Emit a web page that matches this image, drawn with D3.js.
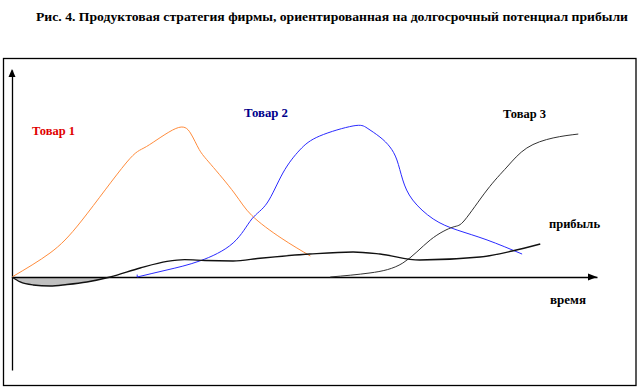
<!DOCTYPE html>
<html><head><meta charset="utf-8">
<script src="https://cdn.jsdelivr.net/npm/d3@7"></script>
<style>html,body{margin:0;padding:0;background:#fff}svg{display:block}
text{font-family:"Liberation Serif","Times New Roman",serif;font-weight:bold}</style>
</head><body>
<svg id="c" width="640" height="390"></svg>
<script>
const title = "Рис. 4. Продуктовая стратегия фирмы, ориентированная на долгосрочный потенциал прибыли";
const seriesNames = ["Товар 1", "Товар 2", "Товар 3", "прибыль"];
const axisLabel = "время";

const product1T = [0, 6.5, 12, 19.5, 23, 28, 30.5, 32, 34, 38, 41, 46, 51];
const product1V = [0, 16, 38, 76, 87, 99, 96, 85, 75, 56, 41, 26, 14];

const product2T = [21.4, 26.5, 32.1, 37.8, 41, 43.6, 46.3, 49.2, 52.6, 58.3, 60.7, 62.9, 64.6, 65.8, 66.8, 68.5, 72, 76.1, 81.2, 87.2];
const product2V = [0, 4.7, 10.7, 22.7, 38.7, 49.3, 69.3, 84.7, 94, 100.7, 99.3, 93.3, 86.7, 78, 64.7, 51.3, 38.7, 31.3, 24.7, 15.3];

const product3T = [54.4, 61.2, 66.8, 71.5, 75.4, 77.4, 81.2, 84.6, 88, 92.5, 96.8];
const product3V = [0, 2.7, 9.3, 24.7, 33.3, 38, 58, 73.3, 86, 92.7, 95.3];

const profitT = [0, 1.4, 3.6, 6.5, 9.4, 12.8, 16.8, 21.9, 26.5, 29.5, 33, 37.8, 42.4, 50.9, 58.3, 62.9, 69.7, 80, 85.5, 90.3];
const profitV = [0, -3.3, -5.3, -6, -5, -3.3, 0, 6, 10.4, 11.6, 11, 10.7, 12.5, 15.3, 16.7, 15.3, 11.3, 13.3, 17.3, 22];

const svg = d3.select("#c");
const x = d3.scaleLinear().domain([0, 100]).range([12, 597]);
const y = d3.scaleLinear().domain([-62, 138]).range([370, 70]);

// frame
svg.append("rect").attr("x", 3.5).attr("y", 58.5).attr("width", 632.5).attr("height", 327)
  .attr("fill", "none").attr("stroke", "#000").attr("stroke-width", 1.3);

// title
svg.append("text").attr("x", 36).attr("y", 21).text(title)
  .attr("font-size", 12.5)
  .attr("textLength", 592).attr("lengthAdjust", "spacingAndGlyphs").attr("fill", "#000");

const zip = (T, V) => T.map((t, i) => ({t, v: V[i]}));
const line = d3.line().x(d => x(d.t)).y(d => y(d.v)).curve(d3.curveMonotoneX);
const smooth = d3.line().x(d => x(d.t)).y(d => y(d.v)).curve(d3.curveNatural);

// shaded loss area
const profit = zip(profitT, profitV);
const loss = profit.filter(d => d.t <= 16.8);
svg.append("path").datum(loss)
  .attr("d", d3.area().x(d => x(d.t)).y0(y(0)).y1(d => y(d.v)).curve(d3.curveMonotoneX))
  .attr("fill", "#c0c0c0");

// axes
const xAxis = d3.axisBottom(x).ticks(0).tickSizeOuter(0);
const yAxis = d3.axisLeft(y).ticks(0).tickSizeOuter(0);
const gx = svg.append("g").attr("transform", `translate(0,${y(0)})`).call(xAxis);
const gy = svg.append("g").attr("transform", `translate(${x(0)},0)`).call(yAxis);
gx.select(".domain").attr("stroke", "#000").attr("stroke-width", 1.3);
gy.select(".domain").attr("stroke", "#000").attr("stroke-width", 1.3);
// arrow heads
const xe = x(100), y0 = y(0);
svg.append("path").attr("d", `M${xe},${y0} L${xe-9},${y0-3.5} L${xe-9},${y0+3.5} Z`).attr("fill", "#000");
const ye = y(138), x0 = x(0);
svg.append("path").attr("d", `M${x0},${ye-1} L${x0-3.5},${ye+7} L${x0+3.5},${ye+7} Z`).attr("fill", "#000");

// curves
svg.append("path").datum(zip(product1T, product1V)).attr("d", smooth)
  .attr("fill", "none").attr("stroke", "#ff8c3c").attr("stroke-width", 1);
svg.append("path").datum(zip(product2T, product2V)).attr("d", smooth)
  .attr("fill", "none").attr("stroke", "#2a2aff").attr("stroke-width", 1);
svg.append("path").attr("d", `M${x(21.4)},${y(0)} L${x(21.4)},${y(1.6)}`)
  .attr("stroke", "#2a2aff").attr("stroke-width", 1);
svg.append("path").datum(zip(product3T, product3V)).attr("d", smooth)
  .attr("fill", "none").attr("stroke", "#333").attr("stroke-width", 1);
svg.append("path").datum(profit).attr("d", line)
  .attr("fill", "none").attr("stroke", "#111").attr("stroke-width", 1.4);

// labels
const lab = (txt, px, py, col, w) => svg.append("text").attr("x", px).attr("y", py).text(txt)
  .attr("font-size", 12.5)
  .attr("fill", col).attr("textLength", w).attr("lengthAdjust", "spacingAndGlyphs");
lab(seriesNames[0], 32, 135, "#e00000", 43);
lab(seriesNames[1], 244, 117, "#00008b", 44);
lab(seriesNames[2], 503, 118, "#000", 43);
lab(seriesNames[3], 549, 228, "#000", 51);
lab(axisLabel, 550, 304, "#000", 36);
</script>
</body></html>
